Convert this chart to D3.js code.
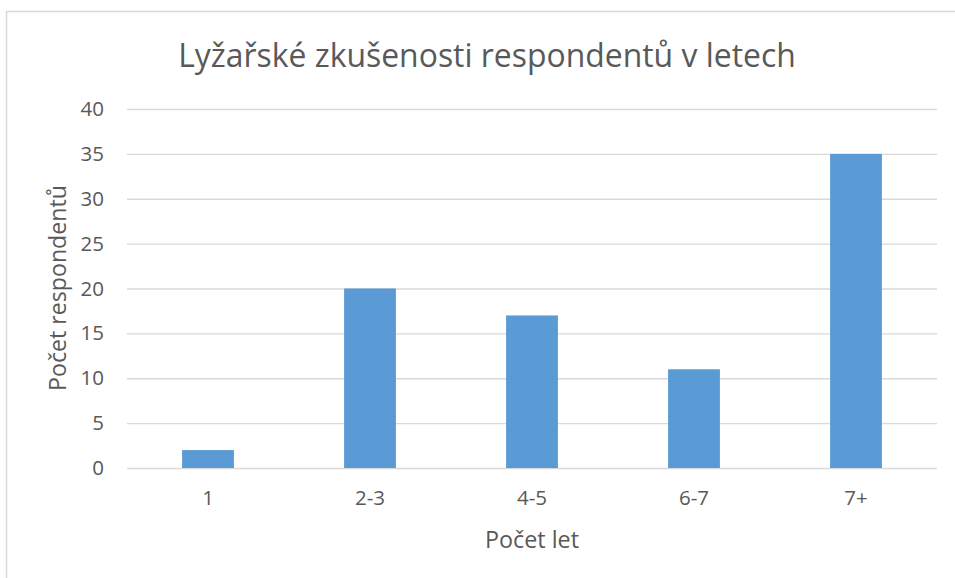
<!DOCTYPE html>
<html>
<head>
<meta charset="utf-8">
<script src="https://cdn.jsdelivr.net/npm/d3@7"></script>
<style>
  body { margin: 0; background: #fff; }
  svg { display: block; font-family: "Open Sans", "Noto Sans", sans-serif; }
</style>
</head>
<body>
<div id="svg-container"></div>
<script>
const categories = ["1", "2-3", "4-5", "6-7", "7+"];
const respondents = [2, 20, 17, 11, 35];
const yTicks = [0, 5, 10, 15, 20, 25, 30, 35, 40];
const chartTitle = "Lyžařské zkušenosti respondentů v letech";
const xTitle = "Počet let";
const yTitle = "Počet respondentů";

const fitText = (sel, width) => {
    // squeeze the text to the width it has in the picture
    let w = sel.node().getComputedTextLength();
    let size = parseFloat(sel.attr("font-size"));
    sel.attr("font-size", size * width / w);
};

const buildChart = () => {
    let W = 955, H = 578;
    let margin = {left: 127, right: 18, top: 109, bottom: 110};

    let svg = d3.select("#svg-container")
        .append("svg")
        .attr("width", W)
        .attr("height", H);

    // chart frame
    svg.append("rect")
        .attr("x", 6.5)
        .attr("y", 11.5)
        .attr("width", W + 10)
        .attr("height", H + 10)
        .attr("fill", "none")
        .attr("stroke", "#d9d9d9")
        .attr("stroke-width", 1.5);

    let x = d3.scaleBand()
        .domain(categories)
        .range([margin.left, W - margin.right])
        .paddingInner(0.68)
        .paddingOuter(0.34);

    let y = d3.scaleLinear()
        .domain([0, 40])
        .range([H - margin.bottom, margin.top]);

    let yAxis = d3.axisLeft(y).tickValues(yTicks).tickSize(-(W - margin.right - margin.left)).tickPadding(23);
    let gy = svg.append("g")
        .attr("transform", `translate(${margin.left},0)`)
        .call(yAxis);
    gy.select(".domain").remove();
    gy.selectAll(".tick line").attr("stroke", "#d9d9d9").attr("stroke-width", 1.3);
    gy.selectAll(".tick text")
        .attr("fill", "#595959")
        .attr("font-size", 20.5)
        .attr("font-family", "Open Sans");

    svg.selectAll("rect.bar")
        .data(respondents)
        .enter()
        .append("rect")
        .attr("class", "bar")
        .attr("x", (d, i) => x(categories[i]))
        .attr("y", d => y(d))
        .attr("width", x.bandwidth())
        .attr("height", d => y(0) - y(d))
        .attr("fill", "#5b9bd5");

    let xAxis = d3.axisBottom(x).tickSize(0).tickPadding(22);
    let gx = svg.append("g")
        .attr("transform", `translate(0,${y(0)})`)
        .call(xAxis);
    gx.select(".domain").remove();
    gx.selectAll(".tick text")
        .attr("fill", "#595959")
        .attr("font-size", 20.5)
        .attr("font-family", "Open Sans");

    let title = svg.append("text")
        .attr("x", 487)
        .attr("y", 67)
        .attr("text-anchor", "middle")
        .attr("fill", "#595959")
        .attr("font-size", 32)
        .text(chartTitle);
    fitText(title, 618);

    let xt = svg.append("text")
        .attr("x", 532)
        .attr("y", 548)
        .attr("text-anchor", "middle")
        .attr("fill", "#595959")
        .attr("font-size", 20)
        .text(xTitle);
    fitText(xt, 94);

    let yt = svg.append("text")
        .attr("transform", "translate(66,288) rotate(-90)")
        .attr("text-anchor", "middle")
        .attr("fill", "#595959")
        .attr("font-size", 20)
        .text(yTitle);
    fitText(yt, 206);
};

buildChart();
</script>
</body>
</html>
